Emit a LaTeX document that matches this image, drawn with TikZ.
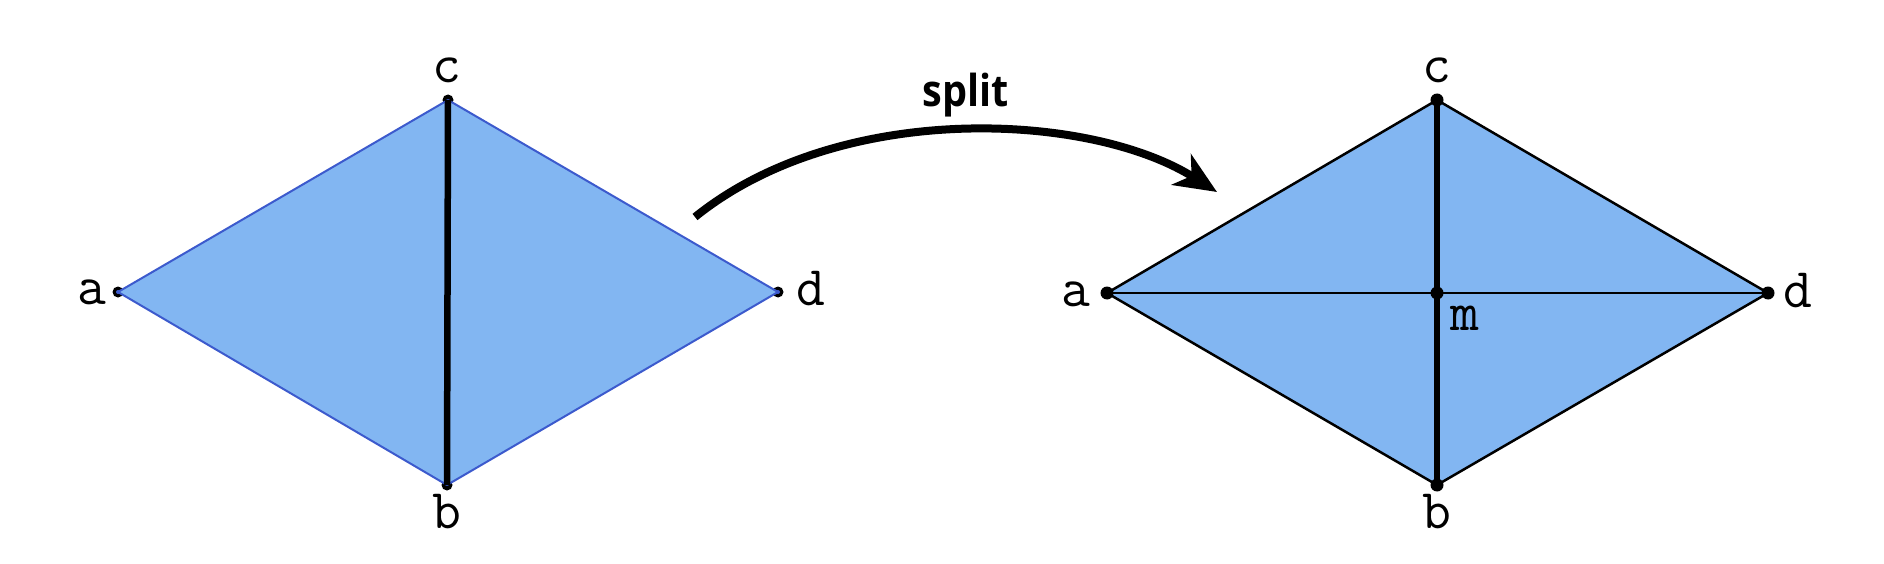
\documentclass[tikz,border=0pt]{standalone}
\usepackage{fontspec}
\newfontfamily\splitfont{Open Sans}[BoldFont={* Bold}]
\usetikzlibrary{arrows.meta}
\definecolor{fillblue}{RGB}{130,182,242}
\definecolor{edgeblue}{RGB}{60,90,205}
\tikzset{
  lbl/.style={font=\fontsize{56}{60}\selectfont\ttfamily, inner sep=0pt},
  vdot/.style={fill=black},
  thickline/.style={line width=6.5pt, black},
  bigarrow/.style={line width=8pt, -{Stealth[length=42pt,width=36pt,inset=12pt]}}
}
\begin{document}
\begin{tikzpicture}[x=1pt,y=-1pt]
\useasboundingbox (0,0) rectangle (1884,564);
\fill[white] (0,0) rectangle (1884,564);
% left diamond
\coordinate (La) at (118,292);
\coordinate (Lc) at (448,100);
\coordinate (Ld) at (778,292);
\coordinate (Lb) at (447,485);
\fill[vdot] (La) circle (5.5);
\fill[vdot] (Ld) circle (5.5);
\fill[vdot] (Lc) circle (5.5);
\fill[vdot] (Lb) circle (5.5);
\filldraw[fill=fillblue, draw=edgeblue, line width=2pt, line join=round] (La) -- (Lc) -- (Ld) -- (Lb) -- cycle;
\fill[edgeblue] (La) circle (2);
\fill[edgeblue] (Ld) circle (2);
\draw[thickline] (Lc) -- (Lb);
\node[lbl] (lA) at (92,292) {a};
\node[lbl] (lC) at (447,70) {c};
\node[lbl] (lD) at (811,289) {d};
\node[lbl] (lB) at (447,512) {b};
% right diamond
\coordinate (Ra) at (1107,293);
\coordinate (Rc) at (1437,100);
\coordinate (Rd) at (1768,293);
\coordinate (Rb) at (1437,485);
\coordinate (Rm) at (1437,293);
\filldraw[fill=fillblue, draw=black, line width=2.5pt, line join=round] (Ra) -- (Rc) -- (Rd) -- (Rb) -- cycle;
\draw[black, line width=2.5pt] (Ra) -- (Rd);
\draw[thickline] (Rc) -- (Rb);
\foreach \p in {Ra,Rc,Rd,Rb,Rm} \fill[vdot] (\p) circle (6.5);
\node[lbl] (rA) at (1076,294) {a};
\node[lbl] (rC) at (1437,70) {c};
\node[lbl] (rD) at (1798,291) {d};
\node[lbl] (rB) at (1437,512) {b};
\node[lbl] (rM) at (1465,318) {m};
% arrow
\coordinate (As) at (695,217);
\coordinate (Ae) at (1217,192);
\draw[bigarrow] (As) .. controls (840,100) and (1090,112) .. (Ae);
\node[font=\fontsize{44}{48}\selectfont\splitfont\bfseries, inner sep=0pt] (split) at (966,95) {\scalebox{0.9}[1]{split}};
\end{tikzpicture}
\end{document}
